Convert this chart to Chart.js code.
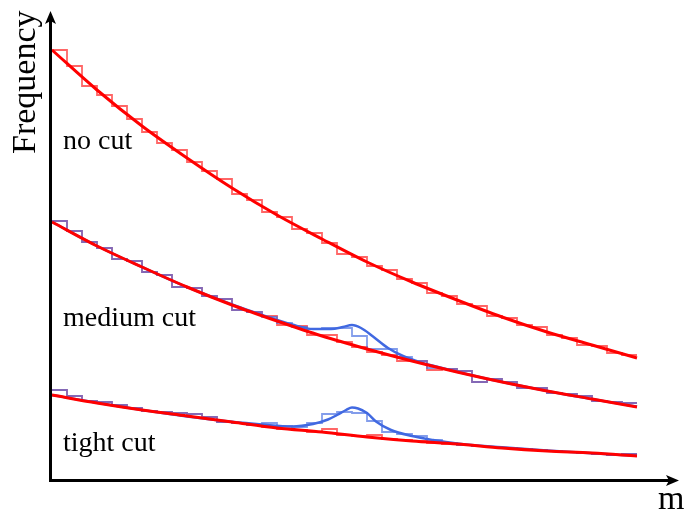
<!DOCTYPE html>
<html>
<head>
<meta charset="utf-8">
<script src="https://cdn.jsdelivr.net/npm/chart.js@4/dist/chart.umd.min.js"></script>
<style>
    body { margin: 0; background: #fff; }
    #wrap { position: relative; width: 684px; height: 513px; }
    .lbl {
        position: absolute;
        font-family: "Liberation Serif", "DejaVu Serif", serif;
        line-height: 1;
        color: #000;
        white-space: nowrap;
    }
</style>
</head>
<body>
<div id="wrap">
    <canvas id="spectrum" width="684" height="513"></canvas>
    <div class="lbl" id="y-title" style="font-size:34px; left:7px; top:154px; transform-origin:0 0; transform:rotate(-90deg);">Frequency</div>
    <div class="lbl" id="x-title" style="font-size:34px; left:658px; top:481px;">m</div>
    <div class="lbl" style="font-size:28px; left:63px; top:126px;">no cut</div>
    <div class="lbl" style="font-size:28px; left:63px; top:303px;">medium cut</div>
    <div class="lbl" style="font-size:28px; left:63px; top:428px;">tight cut</div>
</div>
<script>
// bin edges along m (39 bins)
let binEdges = [0, 5, 10, 15, 20, 25, 30, 35, 40, 45, 50, 55, 60, 65, 70, 75, 80, 85, 90, 95,
    100, 105, 110, 115, 120, 125, 130, 135, 140, 145, 150, 155, 160, 165, 170, 175, 180, 185, 190, 195];

// histogram counts per bin
let noCutCounts = [430, 414, 394, 385, 374, 361, 348, 337, 330, 318, 309, 301, 286, 280, 268, 263, 251, 247, 237, 226,
    223, 214, 210, 201, 197, 187, 184, 176, 174, 164, 162, 155, 153, 145, 142, 135, 134, 127, 125];
let mediumBkgCounts = [259, 249, 238, 232, 221, 219, 208, 205, 193, 192, 184, 181, 170, 168, 164, 155, 154, 145, 145, 138,
    133, 128, 125, 119, 119, 110, 111, 109, 98, 101, 98, 92, 92, 87, 86, 84, 79, 78, 77];
let mediumSigCounts = [259, 249, 238, 232, 221, 219, 208, 205, 193, 192, 184, 181, 170, 168, 163, 157, 153, 151, 152, 152,
    144, 131, 131, 123, 119, 112, 111, 109, 98, 101, 98, 92, 92, 87, 86, 84, 79, 78, 77];
let tightBkgCounts = [90, 84, 79, 78, 75, 72, 69, 68, 67, 66, 63, 58, 57, 55, 53, 51, 50, 48, 51, 45,
    44, 45, 41, 40, 39, 37, 36, 35, 34, 33, 32, 31, 30, 29, 28, 27, 26, 25, 26];
let tightSigCounts = [90, 84, 79, 78, 75, 72, 69, 68, 67, 66, 63, 58, 57, 55, 57, 54, 53, 57, 66, 68,
    67, 59, 48, 46, 44, 40, 37, 35, 34, 33, 32, 31, 30, 29, 28, 27, 26, 25, 26];

// fitted background curves
let fitM = [0, 15, 30, 45, 60, 75, 90, 105, 120, 135, 150, 165, 180, 195];
let noCutFit = [430, 390, 354, 322, 292, 265, 241, 218, 198, 180, 163, 148, 135, 122];
let mediumFit = [258, 234, 213, 193, 175, 159, 144, 131, 119, 108, 98, 89, 81, 73];
let tightFit = [85, 77, 70, 64, 58, 52, 48, 43, 39, 36, 32, 29, 27, 24];

// background + peak curves
let mediumPeakM = [0, 15, 30, 45, 60, 70, 80, 87, 93, 97, 100, 103, 107, 112, 117, 123, 130, 145, 160, 175, 195];
let mediumPeakFit = [258, 234, 213, 193, 175.5, 165, 155.5, 151, 151, 153, 155, 152, 143.5, 132, 124, 117.5, 112, 101.3, 92, 83.4, 73.4];
let tightPeakM = [0, 15, 30, 45, 60, 70, 80, 87, 92, 95, 98, 100, 102, 105, 108, 113, 120, 127, 135, 150, 165, 180, 195];
let tightPeakFit = [85, 77.2, 70, 63.6, 58.2, 55.5, 53.5, 56, 60.5, 65, 70, 72.5, 71.5, 67, 58.5, 50, 44, 40, 36.5, 32.7, 29.5, 26.7, 24.3];

let red = "#ff0000";
let blue = "#4169e1";
let redHist = "rgba(255, 0, 0, 0.6)";
let blueHist = "rgba(65, 105, 225, 0.65)";

// step points: each bin value held from its left edge to the next edge
function histPoints(counts) {
    return binEdges.map((x, i) => ({ x: x, y: counts[Math.min(i, counts.length - 1)] }));
}

function curvePoints(xs, ys) {
    return xs.map((x, i) => ({ x: x, y: ys[i] }));
}

function histSet(counts, color) {
    return {
        data: histPoints(counts),
        borderColor: color,
        borderWidth: 1.8,
        stepped: true,
        pointRadius: 0,
        order: color === redHist ? 4 : 3,
    };
}

function curveSet(xs, ys, color, width, order) {
    return {
        data: curvePoints(xs, ys),
        borderColor: color,
        borderWidth: width,
        cubicInterpolationMode: "monotone",
        pointRadius: 0,
        order: order,
    };
}

// black axes with arrow heads
const axesPlugin = {
    id: "axes",
    afterDraw(chart) {
        const ctx = chart.ctx;
        const a = chart.chartArea;
        const x0 = a.left + 0.5;
        const y0 = a.bottom + 0.5;
        ctx.save();
        ctx.strokeStyle = "#000";
        ctx.fillStyle = "#000";
        ctx.lineWidth = 3;
        ctx.beginPath();
        ctx.moveTo(x0, y0 + 1.5);
        ctx.lineTo(x0, a.top + 10);
        ctx.moveTo(x0 - 1.5, y0);
        ctx.lineTo(a.right - 10, y0);
        ctx.stroke();

        // y arrow
        ctx.beginPath();
        ctx.moveTo(x0, a.top + 1);
        ctx.lineTo(x0 + 5.5, a.top + 14);
        ctx.lineTo(x0, a.top + 11);
        ctx.lineTo(x0 - 5.5, a.top + 14);
        ctx.closePath();
        ctx.fill();

        // x arrow
        ctx.beginPath();
        ctx.moveTo(a.right - 1, y0);
        ctx.lineTo(a.right - 14, y0 - 5.5);
        ctx.lineTo(a.right - 11, y0);
        ctx.lineTo(a.right - 14, y0 + 5.5);
        ctx.closePath();
        ctx.fill();
        ctx.restore();
    },
};

const ctx = document.getElementById("spectrum").getContext("2d");
const chart = new Chart(ctx, {
    type: "line",
    data: {
        datasets: [
            histSet(noCutCounts, redHist),
            histSet(mediumBkgCounts, redHist),
            histSet(mediumSigCounts, blueHist),
            histSet(tightBkgCounts, redHist),
            histSet(tightSigCounts, blueHist),
            curveSet(mediumPeakM, mediumPeakFit, blue, 2.5, 2),
            curveSet(tightPeakM, tightPeakFit, blue, 2.5, 2),
            curveSet(fitM, noCutFit, red, 3, 1),
            curveSet(fitM, mediumFit, red, 3, 1),
            curveSet(fitM, tightFit, red, 3, 1),
        ],
    },
    options: {
        responsive: false,
        animation: false,
        layout: {
            padding: { left: 50, right: 4, top: 10, bottom: 33 },
        },
        plugins: {
            legend: { display: false },
            tooltip: { enabled: false },
        },
        scales: {
            x: { type: "linear", min: -0.667, max: 209.333, display: false },
            y: { type: "linear", min: 0, max: 470, display: false },
        },
    },
    plugins: [axesPlugin],
});
</script>
</body>
</html>
